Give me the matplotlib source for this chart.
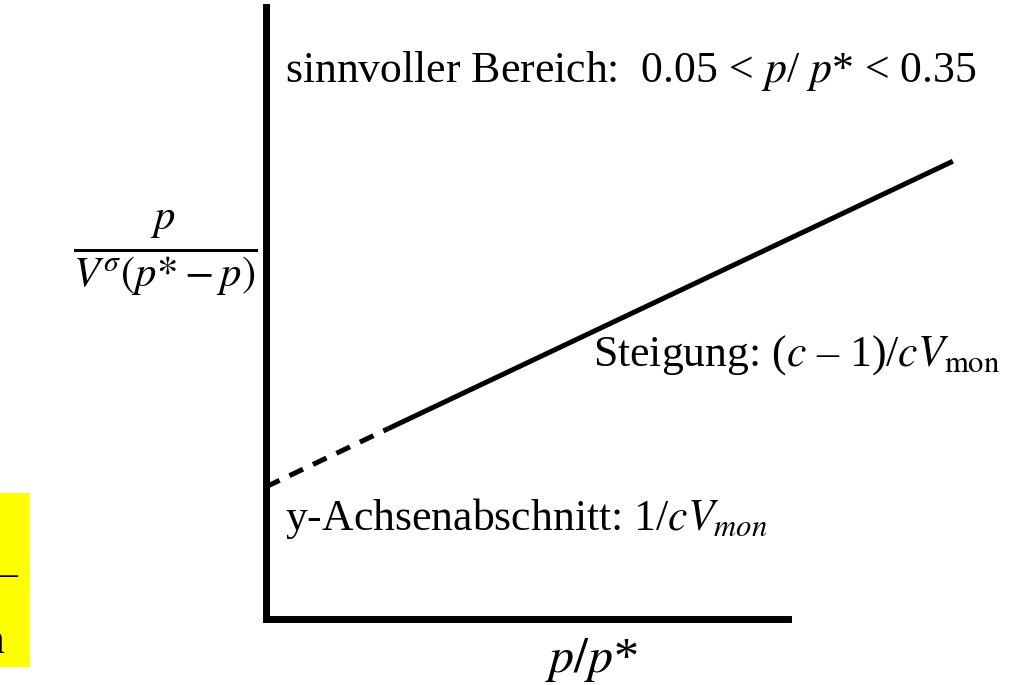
import numpy as np
import matplotlib
matplotlib.use("Agg")
import matplotlib.pyplot as plt
from matplotlib.patches import Rectangle

plt.rcParams['font.family'] = ['Liberation Serif', 'DejaVu Serif']
plt.rcParams['mathtext.fontset'] = 'stix'

# BET straight line, x = p/p*, y in arbitrary units
x_dashed = [0.0, 0.164]
y_dashed = [0.216, 0.311]
x_solid = [0.164, 0.922]
y_solid = [0.311, 0.748]
x_axis_end = 0.70

W, H = 1011, 685
fig = plt.figure(figsize=(W / 100, H / 100), dpi=100)
ax = fig.add_axes([266 / W, 66 / H, 745 / W, 612 / H])
ax.set_xlim(0, 1)
ax.set_ylim(0, 1)

for s in ['top', 'right']:
    ax.spines[s].set_visible(False)
ax.spines['left'].set_linewidth(5)
ax.spines['bottom'].set_linewidth(5)
ax.spines['bottom'].set_bounds(0, x_axis_end)
ax.set_xticks([])
ax.set_yticks([])

ax.plot(x_dashed, y_dashed, color='black', lw=3.6, dashes=(3, 2.2),
        solid_capstyle='butt', clip_on=False)
ax.plot(x_solid, y_solid, color='black', lw=3.6, solid_capstyle='butt',
        clip_on=False)

fs = 31.5
ax.text(0.0255, 0.877, r"sinnvoller Bereich:  0.05 < $p$/ $p$* < 0.35",
        fontsize=fs, va='baseline', ha='left')
ax.text(0.985, 0.415, r"Steigung: ($c$ – 1)/$cV_{\mathrm{mon}}$",
        fontsize=fs, va='baseline', ha='right', clip_on=False)
ax.text(0.0255, 0.145, r"y-Achsenabschnitt: 1/$cV_{mon}$",
        fontsize=fs, va='baseline', ha='left')

# axis labels
ax.text(0.437, -0.086, r"$p/p$*", fontsize=36, ha='center', va='baseline',
        clip_on=False)
ax.text(-0.011, 0.597, r"$\frac{p}{V^{\sigma}\left(p{*}-p\right)}$",
        fontsize=44, ha='right', va='center', clip_on=False)

# yellow note box at the left edge
fig.patches.append(Rectangle((0, 18 / H), 30 / W, 174 / H, facecolor='#ffff00',
                             edgecolor='none', transform=fig.transFigure))
fig.text(17 / W, (H - 575) / H, "–", fontsize=fs, ha='right', va='center')
fig.text(5 / W, (H - 653) / H, "n", fontsize=fs, ha='right', va='baseline')

fig.savefig("out.png", dpi=100)
